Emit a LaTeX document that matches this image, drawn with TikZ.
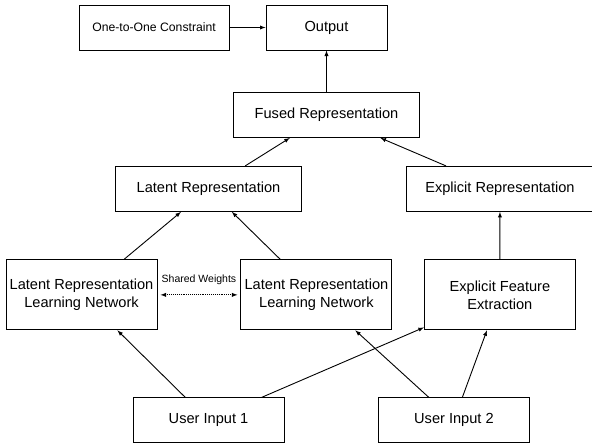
\documentclass[tikz,border=0pt]{standalone}
\usepackage{fontspec}
\setmainfont{Liberation Sans}
\usetikzlibrary{arrows}

\begin{document}
\begin{tikzpicture}[
		>=latex, line width=0.9pt,
		block/.style={rectangle,draw,line width=1pt,inner sep=0pt,align=center,
			minimum width=151pt,minimum height=45pt,font=\fontsize{14.6}{18}\selectfont},
		repblock/.style={block,minimum width=186pt},
		netblock/.style={block,minimum height=70pt}
		]
		\useasboundingbox (0,0) rectangle (592pt,-445pt);

		\node[block, minimum width=121pt](Out) at (326.5pt,-27.5pt){Output};
		\node[block, minimum width=150pt, font=\fontsize{12.2}{14}\selectfont,
		left of = Out, xshift = -144pt](Con){One-to-One Constraint};
		\node[repblock, below of = Out, yshift = -59pt](Fus){Fused Representation};
		\node[repblock, below of = Fus, yshift = -45.5pt, xshift = -118pt](Lat){Latent Representation};
		\node[repblock, right of = Lat, xshift = 263pt](Exr){Explicit Representation};
		\node[netblock, below of = Lat, yshift = -77.5pt, xshift = -127pt](LN1){Latent Representation\\Learning Network};
		\node[netblock, right of = LN1, xshift = 206.5pt](LN2){Latent Representation\\Learning Network};
		\node[netblock, right of = LN2, xshift = 155pt](EFE){Explicit Feature\\Extraction};
		\node[block, below of = LN1, yshift = -97pt, xshift = 127pt](In1){User Input 1};
		\node[block, right of = In1, xshift = 217pt](In2){User Input 2};

		\draw[->] (Con) -- (Out);
		\draw[->] (Fus) -- (Out);
		\draw[->] (Lat) -- (Fus);
		\draw[->] (Exr) -- (Fus);
		\draw[->] (LN1) -- (Lat);
		\draw[->] (LN2) -- (Lat);
		\draw[->] (EFE) -- (Exr);
		\draw[->] (In1) -- (LN1);
		\draw[->] (In1) -- (EFE);
		\draw[->] (In2) -- (LN2);
		\draw[->] (In2) -- (EFE);
		\draw[densely dotted, <->, shorten <=3pt, shorten >=3pt] (LN1) -- (LN2) node [midway, above,
		yshift = 6.5pt, font=\fontsize{10.5}{12}\selectfont]{Shared Weights};

	\end{tikzpicture}
\end{document}
